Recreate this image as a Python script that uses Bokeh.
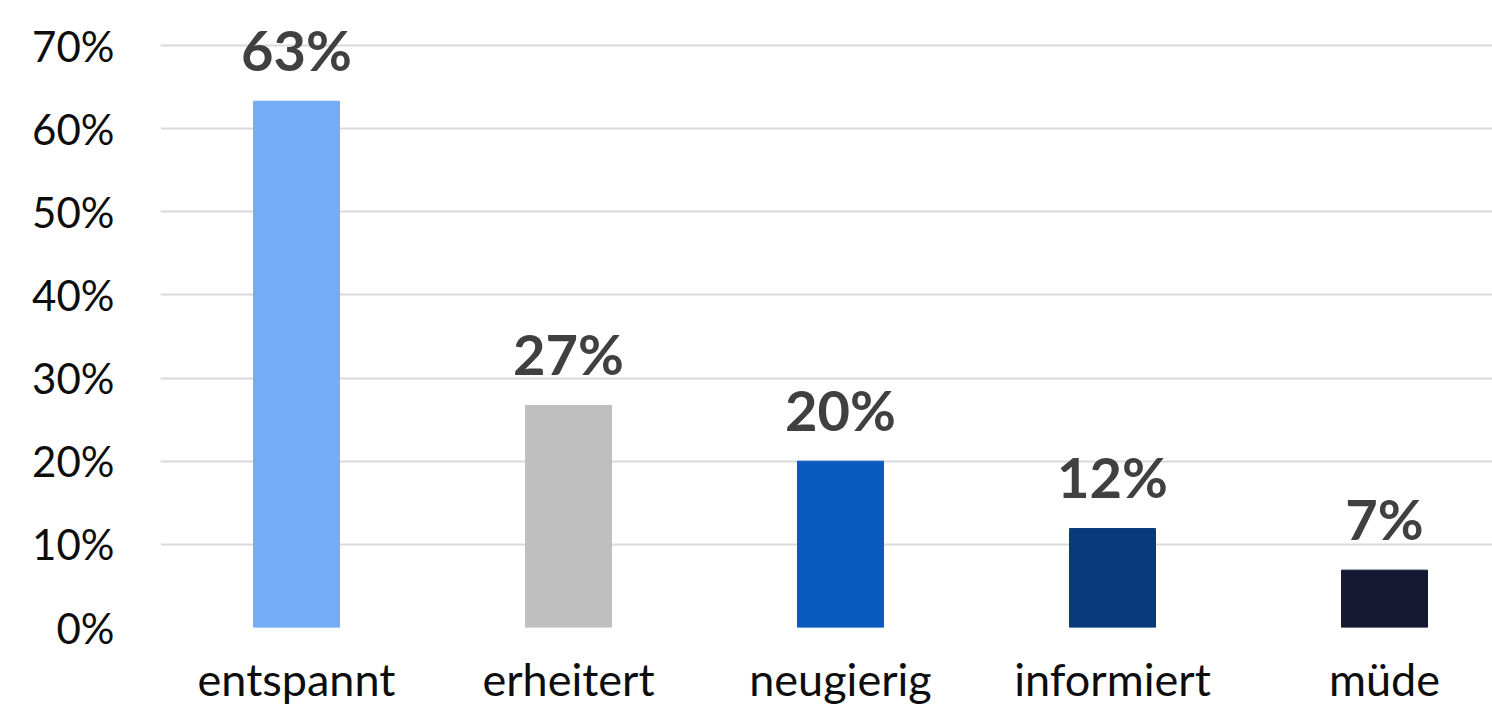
from bokeh.plotting import figure
from bokeh.models import ColumnDataSource, Range1d, FixedTicker, NumeralTickFormatter
from bokeh.embed import file_html
from bokeh.resources import INLINE
from bokeh.core.properties import value

categories = ["entspannt", "erheitert", "neugierig", "informiert", "müde"]
values = [0.633, 0.267, 0.20, 0.119, 0.069]
labels = ["63%", "27%", "20%", "12%", "7%"]
colors = ["#74ACF6", "#BFBFBF", "#0B5BBF", "#083A7C", "#141830"]
y_ticks = [0.0, 0.1, 0.2, 0.3, 0.4, 0.5, 0.6, 0.7]

pos = list(range(len(categories)))
src = ColumnDataSource(dict(x=pos, top=values, label=labels, color=colors))

FONT = "Lato"

p = figure(width=1492, height=708, output_backend="svg", toolbar_location=None,
           x_range=Range1d(-0.5, 4.397), y_range=Range1d(0, 0.7421),
           min_border_left=160, min_border_right=0, min_border_top=10, min_border_bottom=81)
p.outline_line_color = None
p.background_fill_color = "white"
p.border_fill_color = "white"

p.vbar(x="x", top="top", bottom=0, width=0.316, color="color", source=src)
p.text(x="x", y="top", text="label", source=src, text_align="center", text_baseline="alphabetic",
       y_offset=-52, text_font=value(FONT), text_font_style="bold", text_font_size="56px",
       text_color="#404040")

p.xgrid.grid_line_color = None
p.ygrid.grid_line_color = "#D9D9D9"
p.ygrid.grid_line_width = 2
p.ygrid.ticker = FixedTicker(ticks=y_ticks)

p.yaxis.ticker = FixedTicker(ticks=y_ticks)
p.yaxis.formatter = NumeralTickFormatter(format="0%")
p.yaxis.axis_line_color = None
p.yaxis.major_tick_line_color = None
p.yaxis.minor_tick_line_color = None
p.yaxis.major_label_standoff = 40
p.yaxis.major_label_text_font = FONT
p.yaxis.major_label_text_font_size = "42px"
p.yaxis.major_label_text_color = "#0D0D0D"

p.xaxis.ticker = FixedTicker(ticks=pos)
p.xaxis.major_label_overrides = {i: c for i, c in enumerate(categories)}
p.xaxis.axis_line_color = None
p.xaxis.major_tick_line_color = None
p.xaxis.minor_tick_line_color = None
p.xaxis.major_label_standoff = 18
p.xaxis.major_label_text_font = FONT
p.xaxis.major_label_text_font_size = "45px"
p.xaxis.major_label_text_color = "#0D0D0D"

open("out.html", "w").write(file_html(p, INLINE))
